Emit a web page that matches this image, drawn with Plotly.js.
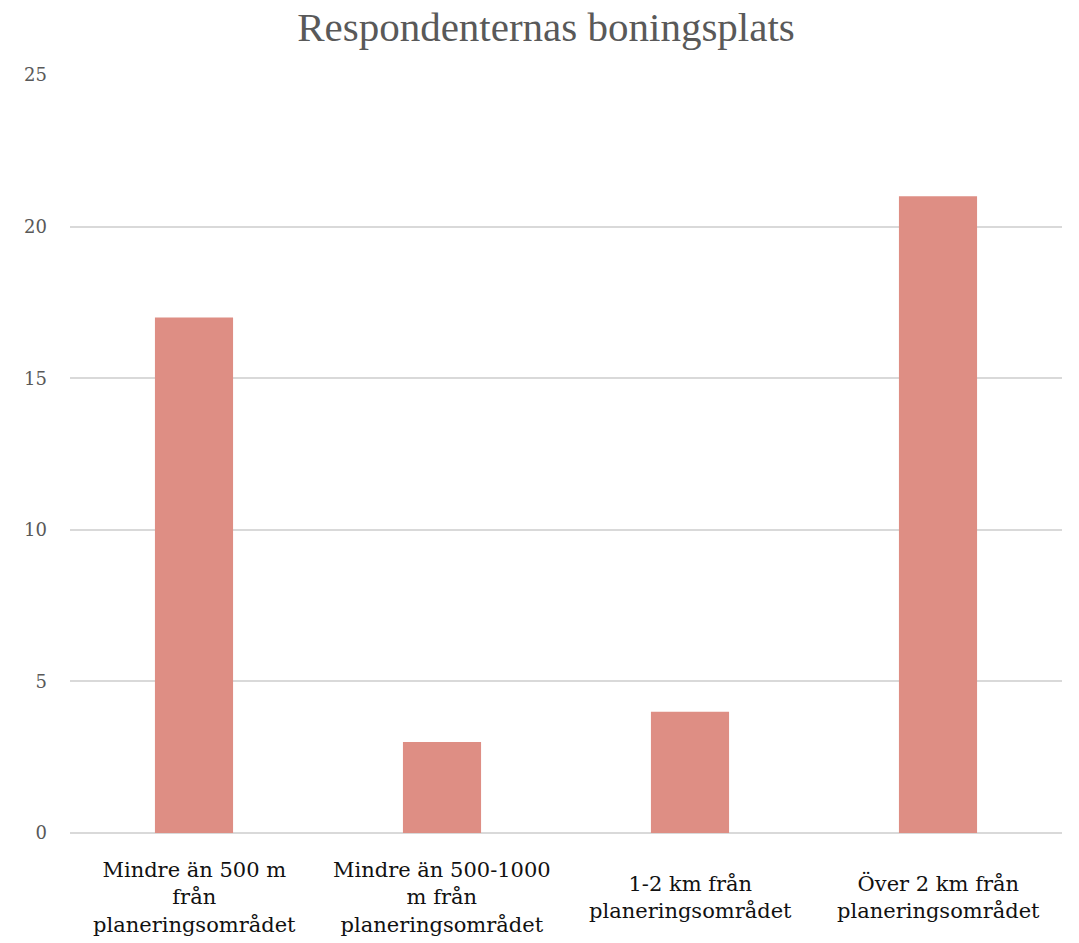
<!DOCTYPE html>
<html>
<head>
<meta charset="utf-8">
<script src="https://cdn.plot.ly/plotly-3.0.1.min.js"></script>
<style>html,body{margin:0;padding:0;background:#fff;}#chart{width:1079px;height:943px;}</style>
</head>
<body>
<div id="chart"></div>
<script>
const categories = [
  "Mindre än 500 m<br>från<br>planeringsområdet",
  "Mindre än 500-1000<br>m från<br>planeringsområdet",
  "1-2 km från<br>planeringsområdet",
  "Över 2 km från<br>planeringsområdet"
];
const values = [17, 3, 4, 21];
const yTicks = [0, 5, 10, 15, 20, 25];
const chartTitle = "Respondenternas boningsplats";

const trace = {
  type: "bar",
  x: categories,
  y: values,
  marker: {color: "#DE8E84"},
  hoverinfo: "x+y"
};

const annotations = categories.map(c => ({
  x: c, xref: "x",
  y: -0.085, yref: "paper",
  text: c,
  showarrow: false,
  xanchor: "center", yanchor: "middle",
  align: "center",
  font: {family: "DejaVu Serif, Georgia, serif", size: 21, color: "#111111"}
}));

const layout = {
  width: 1079, height: 943,
  margin: {l: 70, r: 17, t: 75, b: 110},
  paper_bgcolor: "#ffffff",
  plot_bgcolor: "#ffffff",
  bargap: 0.685,
  showlegend: false,
  title: {
    text: chartTitle,
    x: 0.506, xanchor: "center",
    y: 0.972, yref: "container", yanchor: "middle",
    font: {family: "Liberation Serif, Times New Roman, serif", size: 41, color: "#595959"}
  },
  xaxis: {
    type: "category",
    showticklabels: false,
    showgrid: false,
    zeroline: false,
    showline: false,
    ticks: ""
  },
  yaxis: {
    range: [0, 25],
    tickvals: yTicks,
    ticktext: yTicks.map(String),
    showgrid: true,
    gridcolor: "#D9D9D9",
    gridwidth: 2,
    zeroline: true,
    zerolinecolor: "#D9D9D9",
    zerolinewidth: 2,
    showline: false,
    ticks: "",
    ticklabelstandoff: 22,
    tickfont: {family: "DejaVu Serif, Georgia, serif", size: 18, color: "#595959"}
  },
  annotations: annotations
};

Plotly.newPlot("chart", [trace], layout, {displayModeBar: false, staticPlot: true});
</script>
</body>
</html>
